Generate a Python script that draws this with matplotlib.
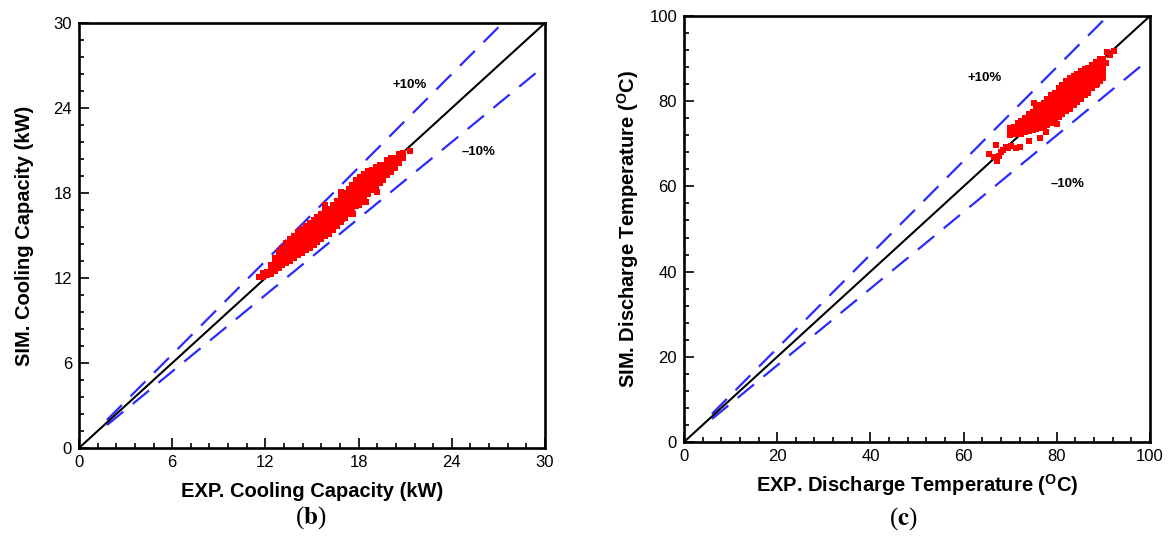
import matplotlib
matplotlib.use("Agg")
import matplotlib.pyplot as plt
from matplotlib.ticker import MultipleLocator

plt.rcParams['font.family'] = ['Liberation Sans', 'DejaVu Sans']
plt.rcParams['mathtext.fontset'] = 'custom'
plt.rcParams['mathtext.rm'] = 'Liberation Sans'
plt.rcParams['mathtext.bf'] = 'Liberation Sans:bold'

# ---------------- data ----------------
# panel (b): SIM cooling capacity (kW) read off per EXP value (kW)
cols_b = {
    11.6: [12.1],
    11.85: [12.1, 12.35],
    12.1: [12.2, 12.45],
    12.35: [12.3, 12.6, 12.9],
    12.6: [12.5, 12.8, 13.1, 13.4],
    12.85: [12.7, 13.0, 13.3, 13.6, 13.85],
    13.1: [12.9, 13.2, 13.5, 13.8, 14.1],
    13.35: [13.05, 13.35, 13.65, 13.95, 14.3, 14.5],
    13.6: [13.2, 13.5, 13.85, 14.15, 14.45, 14.75],
    13.85: [13.4, 13.7, 14.0, 14.35, 14.7, 15.0],
    14.1: [13.6, 13.9, 14.2, 14.55, 14.9, 15.25],
    14.35: [13.8, 14.1, 14.45, 14.8, 15.15, 15.45],
    14.6: [13.95, 14.3, 14.65, 15.0, 15.35, 15.65],
    14.85: [14.15, 14.5, 14.85, 15.2, 15.55, 15.85],
    15.1: [14.35, 14.7, 15.05, 15.4, 15.75, 16.1],
    15.35: [14.55, 14.9, 15.25, 15.6, 15.95, 16.3],
    15.6: [14.75, 15.1, 15.45, 15.8, 16.15, 16.5],
    15.85: [14.95, 15.3, 15.65, 16.0, 16.35, 16.7, 17.15],
    16.1: [15.1, 15.45, 15.8, 16.15, 16.5, 16.9],
    16.35: [15.4, 15.75, 16.1, 16.45, 16.8, 17.15],
    16.6: [15.65, 16.0, 16.35, 16.7, 17.05, 17.45],
    16.85: [15.95, 16.3, 16.65, 17.0, 17.35, 17.75, 18.1],
    17.1: [16.25, 16.6, 16.95, 17.3, 17.65, 18.0],
    17.35: [16.5, 16.85, 17.2, 17.55, 17.9, 18.3],
    17.6: [16.8, 17.15, 17.5, 17.85, 18.2, 18.6],
    17.85: [17.1, 17.45, 17.8, 18.15, 18.5, 18.9],
    18.1: [17.35, 17.7, 18.05, 18.4, 18.8, 19.15],
    18.35: [17.65, 18.0, 18.35, 18.7, 19.05, 19.35],
    18.6: [17.9, 18.25, 18.6, 18.9, 19.25, 19.55],
    18.85: [18.2, 18.5, 18.85, 19.2, 19.65],
    19.1: [18.45, 18.8, 19.15, 19.5, 19.85],
    19.35: [18.7, 19.05, 19.4, 19.75, 20.0],
    19.6: [18.95, 19.3, 19.65, 20.0],
    19.85: [19.25, 19.6, 19.95, 20.35],
    20.1: [19.5, 19.85, 20.2, 20.5],
    20.35: [19.8, 20.15, 20.5],
    20.6: [20.1, 20.45, 20.75],
    20.85: [20.5, 20.85],
    21.3: [21.0],
}
outliers_b = [(19.2, 18.1), (18.0, 17.15), (18.5, 17.4), (17.65, 16.5), (16.9, 16.2),
              (13.0, 13.8)]

cols_c = {
    70.0: [72.0, 73.0, 73.6],
    70.8: [72.2, 73.2, 74.0],
    71.6: [72.3, 73.3, 74.3, 74.8],
    72.4: [72.4, 73.5, 74.6, 75.4],
    73.2: [72.7, 73.8, 74.9, 76.0],
    74.0: [72.9, 74.0, 75.1, 76.2, 76.9],
    74.8: [73.2, 74.3, 75.4, 76.5, 77.5],
    75.6: [73.4, 74.5, 75.6, 76.7, 77.8, 78.2],
    76.4: [73.8, 74.9, 76.0, 77.1, 78.2, 79.0],
    77.2: [74.1, 75.2, 76.3, 77.4, 78.5, 79.6],
    78.0: [74.5, 75.6, 76.7, 77.8, 78.9, 80.0, 80.6],
    78.8: [74.9, 76.0, 77.1, 78.2, 79.3, 80.4, 81.4],
    79.6: [75.5, 76.6, 77.7, 78.8, 79.9, 81.0, 82.0],
    80.4: [76.3, 77.4, 78.5, 79.6, 80.7, 81.8, 83.0],
    81.2: [77.0, 78.1, 79.2, 80.3, 81.4, 82.5, 83.7],
    82.0: [77.6, 78.7, 79.8, 80.9, 82.0, 83.1, 84.2, 84.8],
    82.8: [78.2, 79.3, 80.4, 81.5, 82.6, 83.7, 84.8, 85.5],
    83.6: [79.0, 80.1, 81.2, 82.3, 83.4, 84.5, 85.6, 86.0],
    84.4: [79.8, 80.9, 82.0, 83.1, 84.2, 85.3, 86.5],
    85.2: [80.6, 81.7, 82.8, 83.9, 85.0, 86.1, 87.1],
    86.0: [81.4, 82.5, 83.6, 84.7, 85.8, 86.9, 87.6],
    86.8: [82.3, 83.4, 84.5, 85.6, 86.7, 87.8],
    87.6: [83.1, 84.2, 85.3, 86.4, 87.5, 88.5],
    88.4: [83.9, 85.0, 86.1, 87.2, 88.3, 89.1],
    89.2: [84.7, 85.8, 86.9, 88.0, 89.1, 89.8],
    90.0: [85.5, 86.6, 87.7, 88.8, 89.9],
}
outliers_c = [
    (65.5, 67.7), (66.5, 66.8), (67.0, 69.8), (67.2, 66.0), (67.6, 67.2), (68.1, 68.1),
    (68.5, 68.6), (69.0, 69.3), (69.5, 69.0), (70.1, 69.4), (71.3, 69.0), (72.0, 69.2),
    (74.1, 70.7), (76.5, 71.4), (77.7, 72.7), (80.1, 74.6), (86.8, 81.9), (88.6, 84.1),
    (75.0, 79.6), (90.7, 91.5), (91.5, 90.8), (92.3, 91.9), (90.6, 89.0),
]

exp_b = [x for x, ys in cols_b.items() for _ in ys] + [p[0] for p in outliers_b]
sim_b = [y for ys in cols_b.values() for y in ys] + [p[1] for p in outliers_b]
exp_c = [x for x, ys in cols_c.items() for _ in ys] + [p[0] for p in outliers_c]
sim_c = [y for ys in cols_c.values() for y in ys] + [p[1] for p in outliers_c]

lim_b = 30
lim_c = 100
band_b_start = 1.8
band_c_start = 6.0
band_pct = 0.10

xlabel_b = 'EXP. Cooling Capacity (kW)'
ylabel_b = 'SIM. Cooling Capacity (kW)'
xlabel_c = r'EXP. Discharge Temperature ($^{\mathbf{O}}$C)'
ylabel_c = r'SIM. Discharge Temperature ($^{\mathbf{O}}$C)'

# ---------------- figure ----------------
fig = plt.figure(figsize=(11.69, 5.38), dpi=100)
ax_b = fig.add_axes([79/1169, 90/538, 466/1169, 425/538])
ax_c = fig.add_axes([684/1169, 96/538, 466/1169, 426/538])

blue = '#2a2aff'
red = '#ff0000'


def draw(ax, ex, sm, lim, start, major, minor, xl, yl, plus_xy, minus_xy, xpad, ypad):
    ax.plot([0, lim], [0, lim], color='black', lw=1.5, zorder=3)
    up_end = lim / (1 + band_pct)
    ax.plot([start, up_end], [start * (1 + band_pct), lim], color=blue, lw=1.6,
            dashes=(9.5, 5.5), zorder=2)
    ax.plot([start, lim], [start * (1 - band_pct), lim * (1 - band_pct)], color=blue,
            lw=1.6, dashes=(9.5, 5.5), zorder=2)
    ax.scatter(ex, sm, marker='s', s=16, color=red, linewidths=0, zorder=4)
    ax.set_xlim(0, lim)
    ax.set_ylim(0, lim)
    ax.xaxis.set_major_locator(MultipleLocator(major))
    ax.yaxis.set_major_locator(MultipleLocator(major))
    ax.xaxis.set_minor_locator(MultipleLocator(minor))
    ax.yaxis.set_minor_locator(MultipleLocator(minor))
    ax.tick_params(which='both', direction='in', top=False, right=False,
                   labelsize=12, width=1.2, colors='black')
    ax.tick_params(which='major', length=7, pad=5)
    ax.tick_params(which='minor', length=3.5)
    for sp in ax.spines.values():
        sp.set_linewidth(1.9)
    ax.set_xlabel(xl, fontsize=14.5, fontweight='bold', labelpad=xpad)
    ax.set_ylabel(yl, fontsize=14.5, fontweight='bold', labelpad=ypad)
    ax.text(plus_xy[0], plus_xy[1], '+10%', fontsize=9.5, fontweight='bold',
            ha='center', va='center')
    ax.text(minus_xy[0], minus_xy[1], '\u201310%', fontsize=9.5, fontweight='bold',
            ha='center', va='center')


draw(ax_b, exp_b, sim_b, lim_b, band_b_start, 6, 1.2, xlabel_b, ylabel_b,
     (21.3, 25.6), (25.7, 20.9), 9, 14)
draw(ax_c, exp_c, sim_c, lim_c, band_c_start, 20, 4, xlabel_c, ylabel_c,
     (64.6, 85.4), (82.4, 60.6), 6, 6)

fig.text(311/1169, 1 - 518/538, r'($\mathbf{b}$)', ha='center', va='center',
         fontsize=18, family='Liberation Serif', math_fontfamily='stix')
fig.text(903/1169, 1 - 519/538, r'($\mathbf{c}$)', ha='center', va='center',
         fontsize=18, family='Liberation Serif', math_fontfamily='stix')

fig.savefig('out.png', dpi=100)
